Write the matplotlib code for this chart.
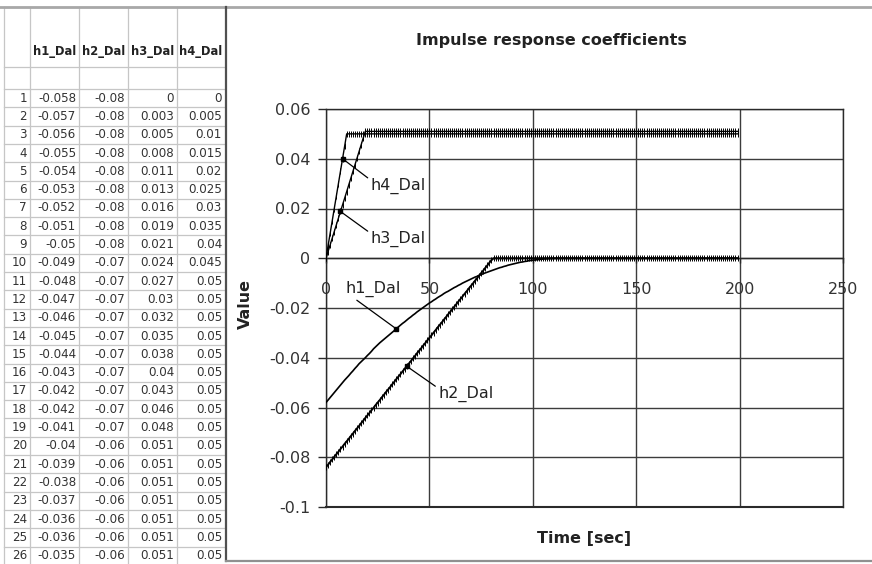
import matplotlib
matplotlib.use("Agg")
import matplotlib.pyplot as plt
from matplotlib.ticker import FuncFormatter

plt.rcParams['font.family'] = ['DejaVu Sans']
plt.rcParams['axes.unicode_minus'] = False

# ---------------- data ----------------
series_names = ["h1_Dal", "h2_Dal", "h3_Dal", "h4_Dal"]
time_sec = list(range(200))

h1_head = [-0.0580, -0.0570, -0.0560, -0.0550, -0.0540, -0.0530, -0.0520, -0.0510, -0.0500, -0.0490,
           -0.0481, -0.0472, -0.0462, -0.0453, -0.0443, -0.0434, -0.0424, -0.0416, -0.0408, -0.0400,
           -0.0391, -0.0383, -0.0374, -0.0364, -0.0356, -0.0348]
h1_mid = [-0.0340, -0.0333, -0.0326, -0.0319, -0.0312, -0.0305, -0.0298, -0.0291, -0.0284, -0.0276,
          -0.0269, -0.0262, -0.0256, -0.0249, -0.0242, -0.0236, -0.0229, -0.0223, -0.0216, -0.0210,
          -0.0204, -0.0198, -0.0192, -0.0186, -0.0180, -0.0175, -0.0169, -0.0164, -0.0158, -0.0153,
          -0.0148, -0.0142, -0.0137, -0.0133, -0.0128, -0.0123, -0.0118, -0.0114, -0.0109, -0.0105,
          -0.0100, -0.0096, -0.0092, -0.0088, -0.0084, -0.0080, -0.0076, -0.0073, -0.0069, -0.0066,
          -0.0062, -0.0059, -0.0056, -0.0053, -0.0050, -0.0047, -0.0044, -0.0041, -0.0038, -0.0036,
          -0.0033, -0.0031, -0.0028, -0.0026, -0.0024, -0.0022, -0.0020, -0.0018, -0.0016, -0.0015,
          -0.0013, -0.0012, -0.0010, -0.0009, -0.0008, -0.0007, -0.0006, -0.0005, -0.0004, -0.0003,
          -0.0002, -0.0002, -0.0001, -0.0001, -0.00004, -0.00002, 0.0]
h1_tail = [0.0] * 87
h1 = h1_head + h1_mid + h1_tail

h2_ramp = [-0.0840, -0.0830, -0.0819, -0.0809, -0.0798, -0.0788, -0.0778, -0.0767, -0.0757, -0.0746,
           -0.0736, -0.0726, -0.0715, -0.0705, -0.0694, -0.0684, -0.0674, -0.0663, -0.0653, -0.0642,
           -0.0632, -0.0622, -0.0611, -0.0601, -0.0590, -0.0580, -0.0570, -0.0559, -0.0549, -0.0538,
           -0.0528, -0.0518, -0.0507, -0.0497, -0.0486, -0.0476, -0.0466, -0.0455, -0.0445, -0.0434,
           -0.0424, -0.0414, -0.0403, -0.0393, -0.0382, -0.0372, -0.0362, -0.0351, -0.0341, -0.0330,
           -0.0320, -0.0310, -0.0299, -0.0289, -0.0278, -0.0268, -0.0258, -0.0247, -0.0237, -0.0226,
           -0.0216, -0.0206, -0.0195, -0.0185, -0.0174, -0.0164, -0.0154, -0.0143, -0.0133, -0.0122,
           -0.0112, -0.0102, -0.0091, -0.0081, -0.0070, -0.0060, -0.0050, -0.0039, -0.0029, -0.0018,
           -0.0008]
h2_tail = [0.0] * 119
h2 = h2_ramp + h2_tail

h3_ramp = [0, 0.0027, 0.0054, 0.0081, 0.0107, 0.0134, 0.0161, 0.0188, 0.0214, 0.0241,
           0.0268, 0.0296, 0.0322, 0.0349, 0.0376, 0.0403, 0.0430, 0.0456, 0.0483]
h3_tail = [0.051] * 181
h3 = h3_ramp + h3_tail

h4_ramp = [0, 0.005, 0.01, 0.015, 0.02, 0.025, 0.03, 0.035, 0.04, 0.045]
h4_tail = [0.05] * 190
h4 = h4_ramp + h4_tail

table_rows = 26
table_decimals = [3, 2, 3, 3]

x_ticks = [0, 50, 100, 150, 200, 250]
y_ticks = [0.06, 0.04, 0.02, 0, -0.02, -0.04, -0.06, -0.08, -0.1]

# ---------------- figure ----------------
W, H = 872, 564
fig = plt.figure(figsize=(W / 100, H / 100), dpi=100)

# spreadsheet background layer (pixel coordinates)
bg = fig.add_axes([0, 0, 1, 1])
bg.set_xlim(0, W)
bg.set_ylim(H, 0)
bg.axis('off')

grid_c = '#c6c6c6'
col_edges = [4, 30, 79, 128, 177, 225]
header_bottom = 67
blank_bottom = 89
row_h = 18.3
top_y = 6.5

ys = [top_y, header_bottom, blank_bottom]
r = 1
while blank_bottom + r * row_h < H + 1:
    ys.append(blank_bottom + r * row_h)
    r += 1
for yy in ys:
    bg.plot([col_edges[0], col_edges[-1]], [yy, yy], color=grid_c, lw=0.9)
for xx in col_edges[:-1]:
    bg.plot([xx, xx], [top_y, H], color=grid_c, lw=0.9)

for j, name in enumerate(series_names):
    cx = (col_edges[j + 1] + col_edges[j + 2]) / 2
    bg.text(cx, 51, name, ha='center', va='center', fontsize=8.3,
            fontweight='bold', color='#222222')

cols = [h1, h2, h3, h4]
for i in range(table_rows):
    cy = blank_bottom + (i + 0.5) * row_h
    bg.text(col_edges[1] - 3, cy, str(i + 1), ha='right', va='center',
            fontsize=8.6, color='#333333')
    for j, series in enumerate(cols):
        v = round(series[i], table_decimals[j])
        if v == 0:
            v = 0.0
        s = '%g' % v
        if s == '-0':
            s = '0'
        bg.text(col_edges[j + 2] - 3, cy, s, ha='right', va='center',
                fontsize=8.6, color='#333333')

# chart area borders
bg.plot([0, W], [top_y, top_y], color='#a8a8a8', lw=2.0)
bg.plot([225.5, 225.5], [top_y, 561], color='#505050', lw=1.6)
bg.plot([225.5, W], [560.5, 560.5], color='#909090', lw=1.6)

# ---------------- chart ----------------
pl, pr, pt, pb = 326, 843, 109, 507
ax = fig.add_axes([pl / W, 1 - pb / H, (pr - pl) / W, (pb - pt) / H])
ax.set_facecolor('white')

ax.plot(time_sec, h1, color='black', lw=1.2, zorder=3)
mk = dict(marker='|', markersize=5, markeredgewidth=0.7)
ax.plot(time_sec, h2, color='black', lw=1.4, zorder=3, **mk)
ax.plot(time_sec, h3, color='black', lw=1.0, zorder=3, **mk)
ax.plot(time_sec, h4, color='black', lw=1.0, zorder=3, **mk)

ax.set_xlim(x_ticks[0], x_ticks[-1])
ax.set_ylim(min(y_ticks), max(y_ticks))
ax.set_xticks(x_ticks)
ax.set_yticks(y_ticks)
ax.yaxis.set_major_formatter(FuncFormatter(lambda v, p: '%g' % round(v, 3)))
ax.xaxis.set_major_formatter(FuncFormatter(lambda v, p: '%g' % v))
ax.grid(True, color='#3c3c3c', lw=1.0)
ax.set_axisbelow(True)

ax.spines['bottom'].set_position(('data', 0))
for sp in ['left', 'right', 'top', 'bottom']:
    ax.spines[sp].set_color('#2a2a2a')
    ax.spines[sp].set_linewidth(1.0)
ax.plot([0, 1], [0, 0], transform=ax.transAxes, color='#2a2a2a', lw=1.5,
        clip_on=False)

ax.tick_params(axis='y', direction='out', length=5.8, width=1, pad=5.5,
               labelsize=11.5, colors='#2a2a2a', labelcolor='#333333')
ax.tick_params(axis='x', direction='out', length=3.5, width=1, pad=13.5,
               labelsize=11.5, colors='#2a2a2a', labelcolor='#333333')

# data labels with leader lines
ann = dict(arrowstyle='-', color='black', lw=0.9, shrinkA=0, shrinkB=2)
lab_fs = 11.5
ax.annotate(series_names[3], xy=(time_sec[8], h4[8]), xytext=(21.5, 0.0292),
            ha='left', va='center', fontsize=lab_fs, color='#222222',
            arrowprops=dict(relpos=(0, 0.85), **ann))
ax.annotate(series_names[2], xy=(time_sec[7], h3[7]), xytext=(21.5, 0.0078),
            ha='left', va='center', fontsize=lab_fs, color='#222222',
            arrowprops=dict(relpos=(0, 0.85), **ann))
ax.annotate(series_names[0], xy=(time_sec[34], h1[34]), xytext=(9.3, -0.0125),
            ha='left', va='center', fontsize=lab_fs, color='#222222',
            arrowprops=dict(relpos=(0.1, 0.1), **ann))
ax.annotate(series_names[1], xy=(time_sec[39], h2[39]), xytext=(54.2, -0.0545),
            ha='left', va='center', fontsize=lab_fs, color='#222222',
            arrowprops=dict(relpos=(0, 0.85), **ann))
for xi, s in [(8, h4), (7, h3), (34, h1), (39, h2)]:
    ax.plot([time_sec[xi]], [s[xi]], marker='s', markersize=2.2, color='black', zorder=4)

# titles
fig.text(551 / W, 1 - 40 / H, 'Impulse response coefficients', ha='center', va='center',
         fontsize=11.5, fontweight='bold', color='#222222')
fig.text(245 / W, 1 - 304 / H, 'Value', ha='center', va='center', rotation=90,
         fontsize=11.5, fontweight='bold', color='#222222')
fig.text(584 / W, 1 - 538 / H, 'Time [sec]', ha='center', va='center',
         fontsize=11.5, fontweight='bold', color='#222222')

fig.savefig('out.png', dpi=100)
